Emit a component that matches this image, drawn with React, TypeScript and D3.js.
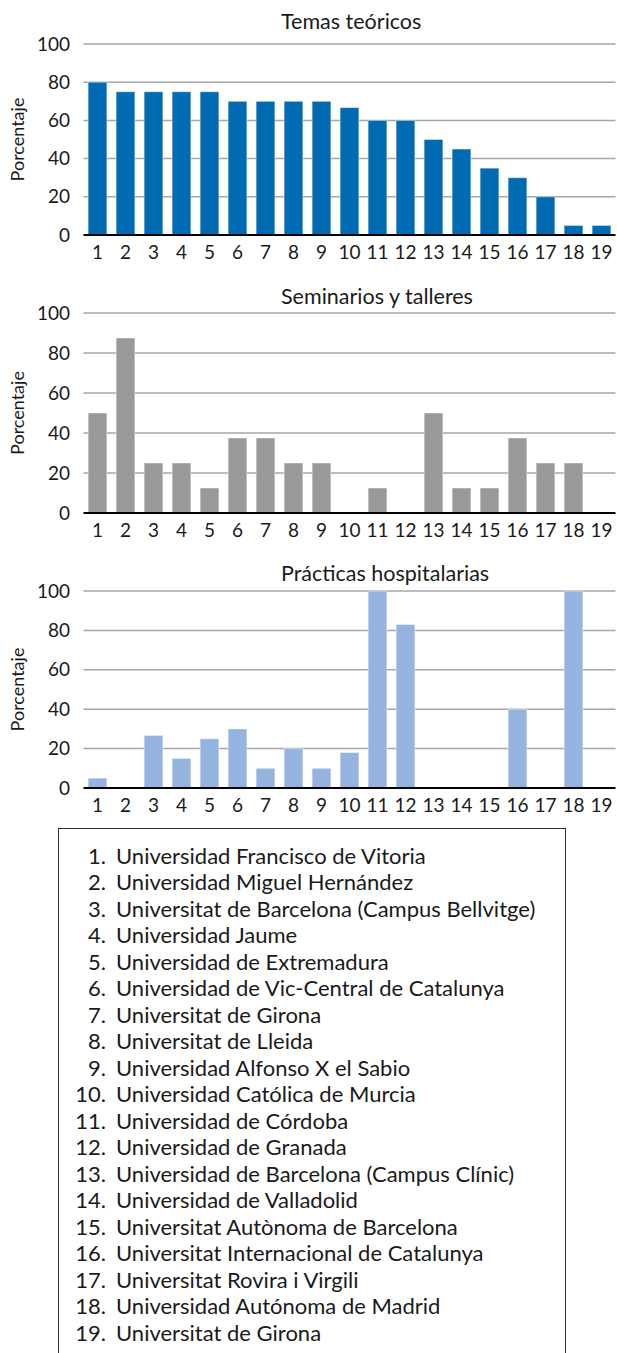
import * as d3 from "d3";

// ── Data ──────────────────────────────────────────────────────────────────────

const CATEGORIES = ["1", "2", "3", "4", "5", "6", "7", "8", "9", "10",
  "11", "12", "13", "14", "15", "16", "17", "18", "19"];

const TEORICOS    = [80, 75, 75, 75, 75, 70, 70, 70, 70, 66.7, 60, 60, 50, 45, 35, 30, 20, 5, 5];
const SEMINARIOS  = [50, 87.5, 25, 25, 12.5, 37.5, 37.5, 25, 25, 0, 12.5, 0, 50, 12.5, 12.5, 37.5, 25, 25, 0];
const PRACTICAS   = [5, 0, 26.7, 15, 25, 30, 10, 20, 10, 18, 100, 83, 0, 0, 0, 40, 0, 100, 0];

const Y_TICKS = [0, 20, 40, 60, 80, 100];

const UNIVERSIDADES = [
  "Universidad Francisco de Vitoria",
  "Universidad Miguel Hernández",
  "Universitat de Barcelona (Campus Bellvitge)",
  "Universidad Jaume",
  "Universidad de Extremadura",
  "Universidad de Vic-Central de Catalunya",
  "Universitat de Girona",
  "Universitat de Lleida",
  "Universidad Alfonso X el Sabio",
  "Universidad Católica de Murcia",
  "Universidad de Córdoba",
  "Universidad de Granada",
  "Universidad de Barcelona (Campus Clínic)",
  "Universidad de Valladolid",
  "Universitat Autònoma de Barcelona",
  "Universitat Internacional de Catalunya",
  "Universitat Rovira i Virgili",
  "Universidad Autónoma de Madrid",
  "Universitat de Girona",
];

// ── Tokens ────────────────────────────────────────────────────────────────────

const W = 617, H = 1353;
const FONT = "Lato, 'Open Sans', sans-serif";
const GRID = "#A6A6A6";
const FG = "#1a1a1a";
const X0 = 83.5, X1 = 615.5;

const x = d3.scaleBand<string>()
  .domain(CATEGORIES)
  .range([X0, X1])
  .paddingInner(0.33)
  .paddingOuter(0.165);

// ── Panel ─────────────────────────────────────────────────────────────────────

function Panel({ title, values, color, top, bottom, titleY }: {
  title: string; values: number[]; color: string;
  top: number; bottom: number; titleY: number;
}) {
  const y = d3.scaleLinear().domain([0, 100]).range([bottom, top]);
  return (
    <g>
      <text x={281} y={titleY} fontSize={21.5} fill={FG} fontFamily={FONT}>{title}</text>

      {/* grid */}
      {Y_TICKS.filter(t => t > 0).map(t => (
        <line key={t} x1={X0} x2={X1} y1={y(t)} y2={y(t)} stroke={GRID} strokeWidth={1.5} />
      ))}

      {/* y labels */}
      {Y_TICKS.map(t => (
        <text key={t} x={70} y={y(t)} dy="0.35em" textAnchor="end"
          fontSize={19} fill={FG} fontFamily={FONT}>{t}</text>
      ))}

      <text transform={`translate(24,${(top + bottom) / 2}) rotate(-90)`}
        textAnchor="middle" fontSize={18} fill={FG} fontFamily={FONT}>Porcentaje</text>

      {/* bars */}
      {values.map((v, i) => v > 0 && (
        <rect key={i}
          x={x(CATEGORIES[i])!} width={x.bandwidth()}
          y={y(v)} height={bottom - y(v)}
          fill={color} stroke="#ffffff" strokeOpacity={0.45} strokeWidth={1} />
      ))}

      {/* axis */}
      <line x1={X0} x2={X1} y1={bottom} y2={bottom} stroke="#000" strokeWidth={2} />
      {CATEGORIES.map(c => (
        <text key={c} x={x(c)! + x.bandwidth() / 2} y={bottom + 24}
          textAnchor="middle" fontSize={19} fill={FG} fontFamily={FONT}>{c}</text>
      ))}
    </g>
  );
}

// ── Main ──────────────────────────────────────────────────────────────────────

export default function App() {
  const LINE_H = 26.5;
  return (
    <svg width={W} height={H} viewBox={`0 0 ${W} ${H}`}
      style={{ position: "absolute", left: 0, top: 0, background: "#fff" }}>
      <Panel title="Temas teóricos" values={TEORICOS} color="#006AB2"
        top={44} bottom={235} titleY={29} />
      <Panel title="Seminarios y talleres" values={SEMINARIOS} color="#999999"
        top={313} bottom={513} titleY={304} />
      <Panel title="Prácticas hospitalarias" values={PRACTICAS} color="#95B3DF"
        top={591} bottom={788} titleY={581} />

      {/* legend box */}
      <rect x={58.5} y={828.5} width={507} height={560} fill="none" stroke="#333" strokeWidth={1} />
      {UNIVERSIDADES.map((u, i) => (
        <g key={i} transform={`translate(0,${856 + i * LINE_H})`}>
          <text x={106} dy="0.35em" textAnchor="end" fontSize={22} fill={FG} fontFamily={FONT}>
            {`${CATEGORIES[i]}.`}
          </text>
          <text x={116} dy="0.35em" fontSize={22} fill={FG} fontFamily={FONT}>{u}</text>
        </g>
      ))}
    </svg>
  );
}
